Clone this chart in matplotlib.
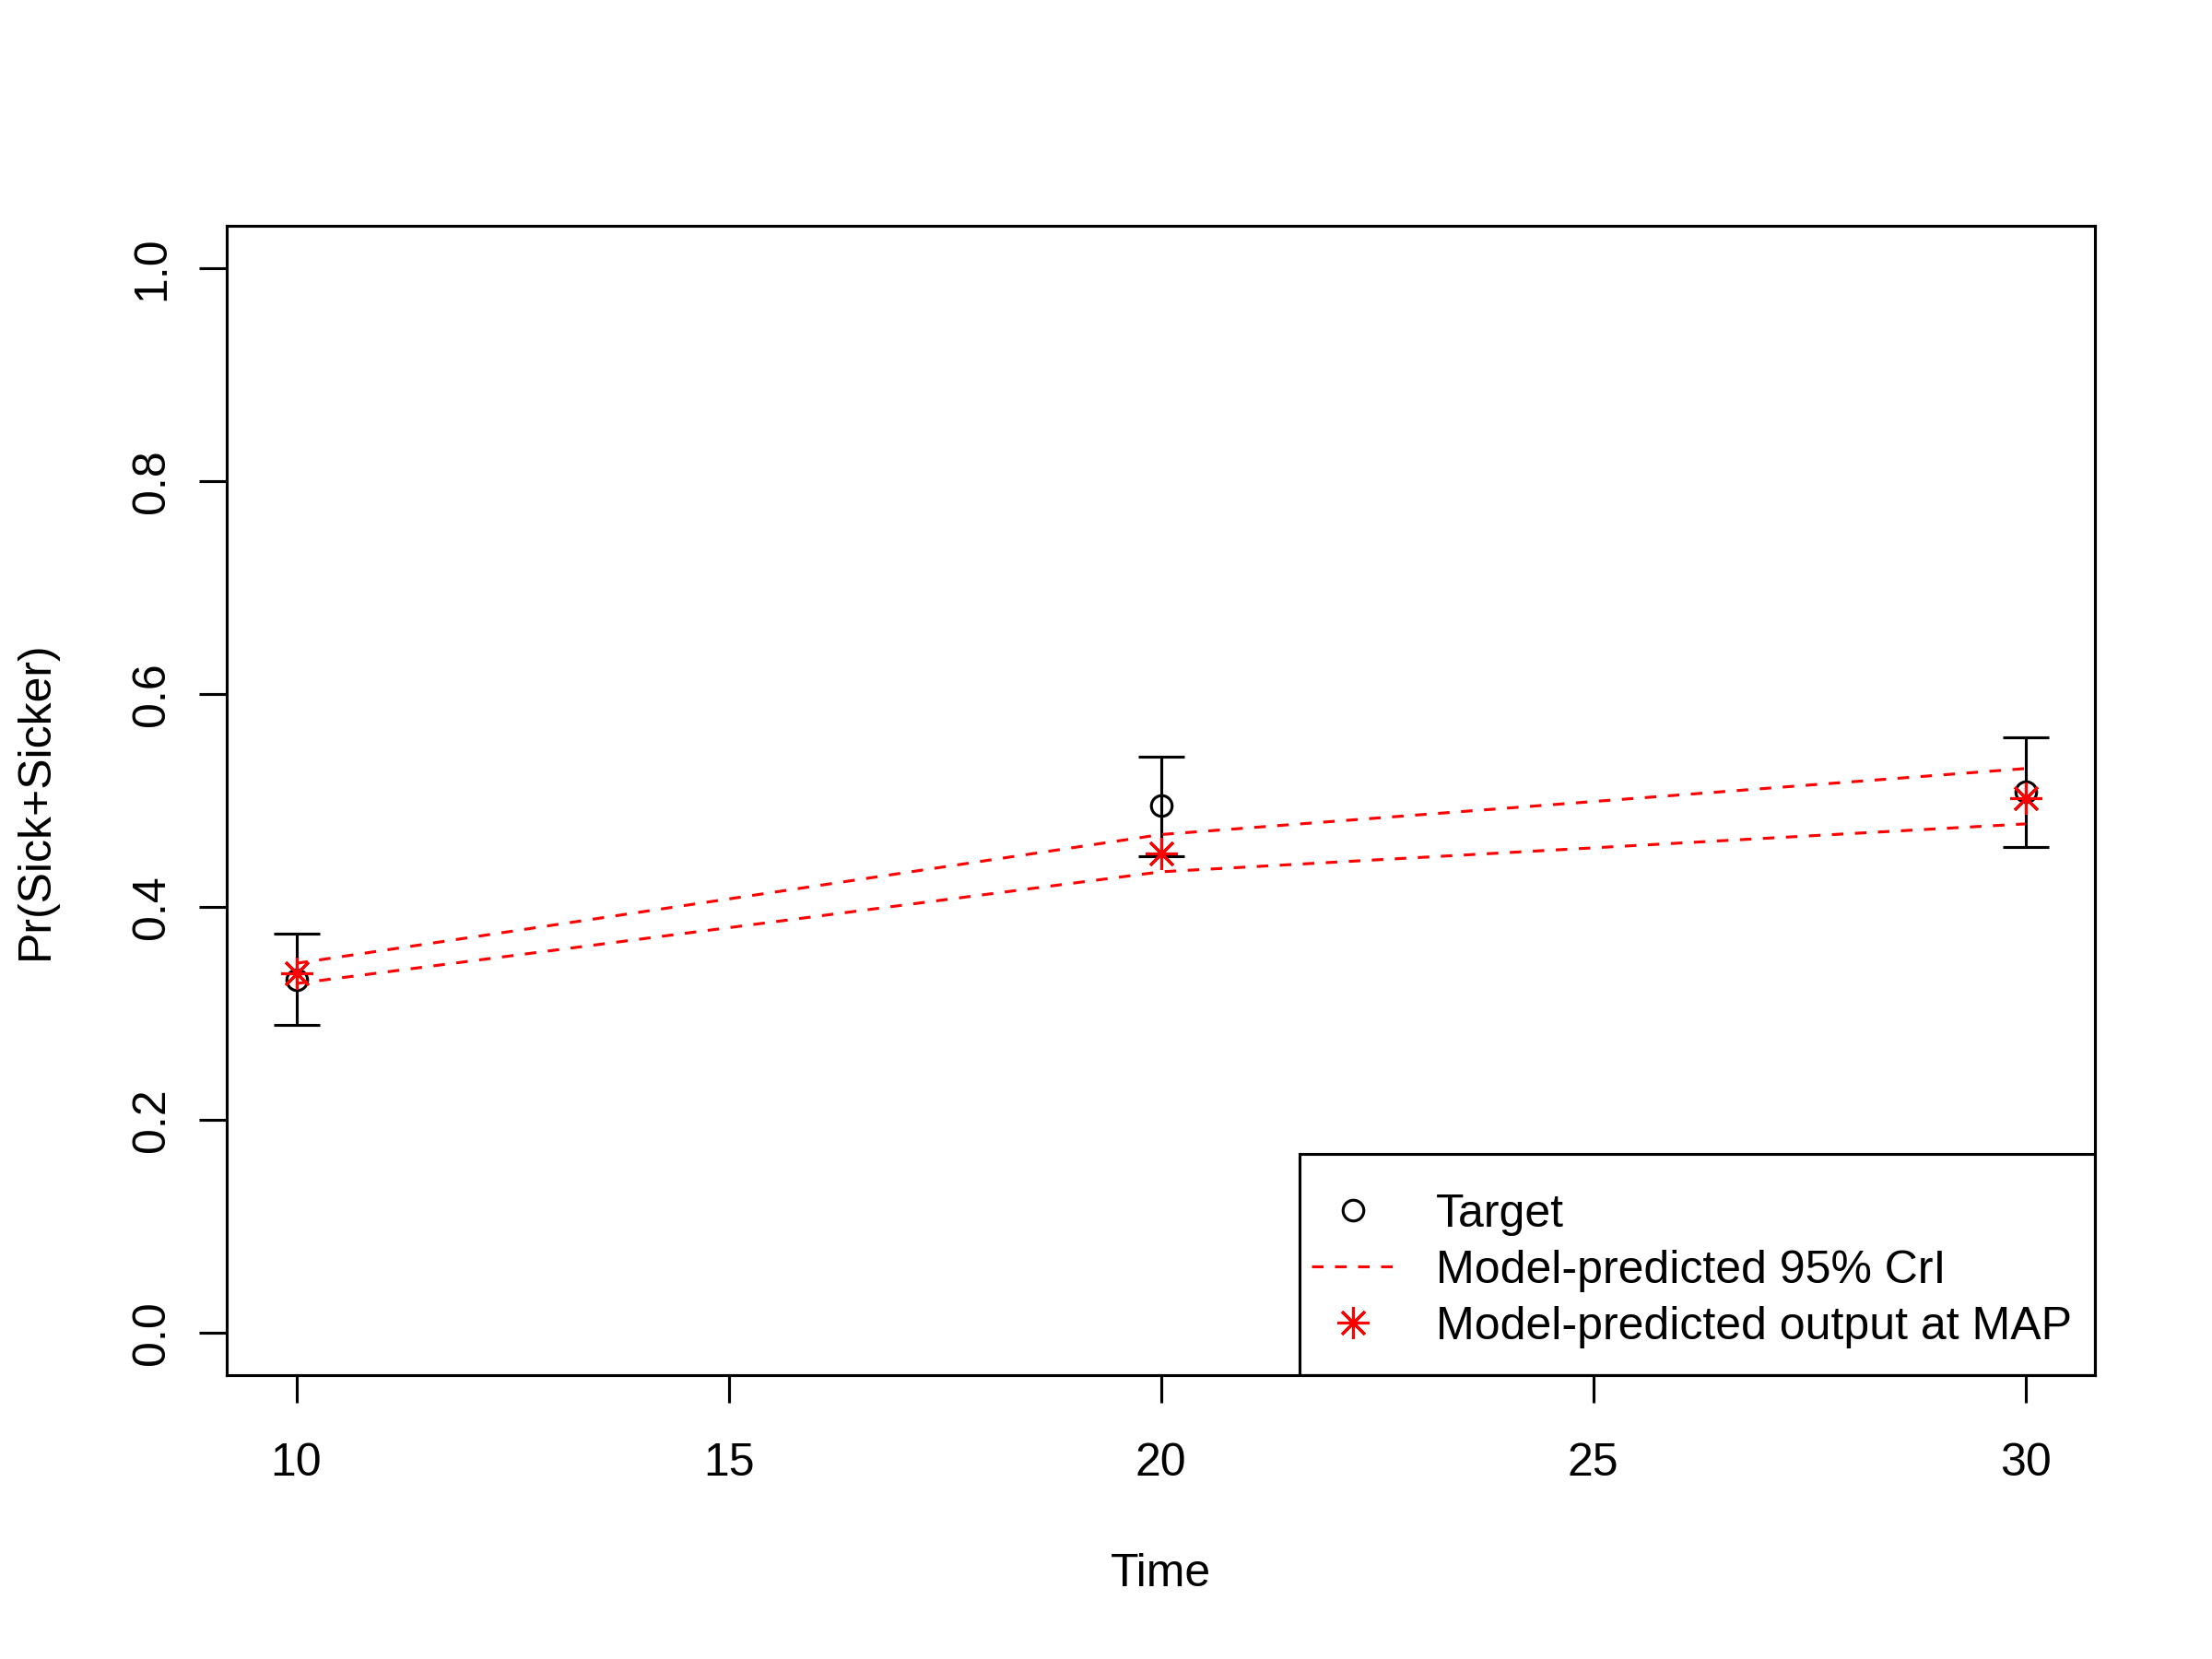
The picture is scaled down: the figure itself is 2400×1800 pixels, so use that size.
import numpy as np
import matplotlib.pyplot as plt
from matplotlib.patches import Rectangle

# calibration target and model output
time = [10, 20, 30]
target = [0.332, 0.495, 0.508]
target_lb = [0.289, 0.448, 0.456]
target_ub = [0.375, 0.541, 0.559]
cri_upper = [0.347, 0.468, 0.530]
cri_lower = [0.328, 0.433, 0.478]
map_output = [0.338, 0.450, 0.502]

plt.rcParams['font.family'] = ['Liberation Sans', 'DejaVu Sans']
plt.rcParams['font.size'] = 12

fig = plt.figure(figsize=(8, 6), dpi=300)
ax = fig.add_axes([0.1027, 0.171, 0.8443, 0.693])

t = np.array(time)
err = [np.array(target) - np.array(target_lb), np.array(target_ub) - np.array(target)]

ax.errorbar(t, target, yerr=err, fmt='none', ecolor='black', elinewidth=0.75,
            capsize=5.9, capthick=0.75)
ax.plot(t, target, 'o', mfc='none', mec='black', mew=0.75, ms=5.4, label='Target')
ax.plot(t, cri_upper, color='red', lw=0.75, dashes=(4, 4),
        label='Model-predicted 95% CrI')
ax.plot(t, cri_lower, color='red', lw=0.75, dashes=(4, 4))
ax.plot(t, map_output, ls='none', marker=(8, 2, 0), color='red', mew=0.75, ms=8.4,
        label='Model-predicted output at MAP')

ax.set_xlim(9.2, 30.8)
ax.set_ylim(-0.04, 1.04)
ax.set_xticks([10, 15, 20, 25, 30])
ax.set_yticks([0.0, 0.2, 0.4, 0.6, 0.8, 1.0])
ax.set_yticklabels(['0.0', '0.2', '0.4', '0.6', '0.8', '1.0'])
ax.tick_params(direction='out', length=7.2, width=0.75, labelsize=12)
ax.tick_params(axis='x', pad=10.2)
ax.tick_params(axis='y', pad=6.8)
plt.setp(ax.get_yticklabels(), rotation=90, va='center')
for s in ax.spines.values():
    s.set_linewidth(0.75)

ax.set_xlabel('Time', fontsize=12)
ax.set_ylabel('Pr(Sick+Sicker)', fontsize=12)
ax.xaxis.set_label_coords(0.5, -0.1734)
ax.xaxis.label.set_va('center')
ax.yaxis.set_label_coords(-0.1027, 0.5)
ax.yaxis.label.set_va('center')

# legend box drawn separately, R style
ax.add_patch(Rectangle((0.574, 0.0), 0.426, 0.1926, transform=ax.transAxes,
                       fill=False, edgecolor='black', lw=0.75, zorder=5))
ax.legend(loc='center left', bbox_to_anchor=(0.5808, 0.0908), frameon=False,
          borderpad=0, borderaxespad=0, handlelength=1.78, handletextpad=0.92,
          labelspacing=0.3, fontsize=12)

fig.savefig('out.png', dpi=300)
